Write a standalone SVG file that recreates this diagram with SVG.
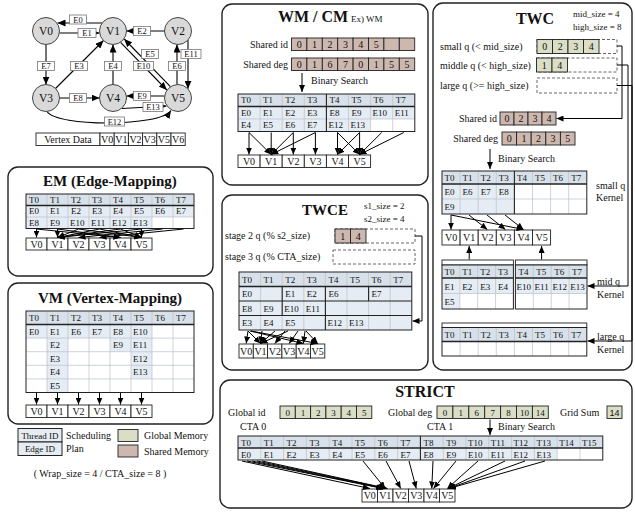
<svg xmlns="http://www.w3.org/2000/svg" width="635" height="512" viewBox="0 0 635 512">
<style>
text{font-family:"Liberation Serif","Times New Roman",serif;fill:#111}
.s9{font-size:9px}.s10{font-size:10px}.s8{font-size:8.5px}.s11{font-size:11.5px}
.ttl{font-size:15px;font-weight:bold}
.mid{text-anchor:middle}.end{text-anchor:end}
.sans{font-family:"Liberation Sans",Arial,sans-serif}
.panel{fill:#fff;stroke:#222;stroke-width:1.4}
.hd{fill:#d8e1ea}.lt{fill:#e5ecf3}.wh{fill:#fff}
.grid{stroke:#b7c1cb;stroke-width:0.7;fill:none}
.dk{stroke:#222;stroke-width:1.1;fill:none}
.hl{stroke:#222;stroke-width:1.6;fill:none}
.box{stroke:#222;stroke-width:1;fill:none}
.vc{fill:#fff;stroke:#222;stroke-width:0.9}
.sh{fill:#cdb8af;stroke:#222;stroke-width:0.9}
.gm{fill:#dadec6;stroke:#222;stroke-width:0.9}
.dash{fill:none;stroke:#555;stroke-width:0.9;stroke-dasharray:3 2}
.ar{fill:none;stroke:#000;stroke-width:1;marker-end:url(#ah)}
.ar2{fill:none;stroke:#000;stroke-width:1.1;marker-end:url(#ah2)}
.el{fill:#fff;stroke:#777;stroke-width:0.8}
.node{fill:#d9d9d9;stroke:#444;stroke-width:1}
</style>
<defs>
<marker id="ah" markerUnits="userSpaceOnUse" markerWidth="7" markerHeight="6" viewBox="0 0 7 6" refX="7" refY="3" orient="auto"><path d="M0,0 L7,3 L0,6 Z" fill="#000"/></marker>
<marker id="ah2" markerUnits="userSpaceOnUse" markerWidth="8" markerHeight="7" viewBox="0 0 8 7" refX="8" refY="3.5" orient="auto"><path d="M0,0 L8,3.5 L0,7 Z" fill="#000"/></marker>
</defs>
<rect width="635" height="512" fill="#fff"/>

<g id="vertex-data">
<rect x="36" y="133" width="64" height="12.5" class="vc"/>
<text x="68" y="142.5" class="s10 mid">Vertex Data</text>
<rect x="100" y="133" width="14.2" height="12.5" class="vc"/><rect x="114.2" y="133" width="14.2" height="12.5" class="vc"/><rect x="128.4" y="133" width="14.2" height="12.5" class="vc"/><rect x="142.6" y="133" width="14.2" height="12.5" class="vc"/><rect x="156.8" y="133" width="14.2" height="12.5" class="vc"/><rect x="171" y="133" width="14.2" height="12.5" class="vc"/>
<text x="107.1" y="142.5" class="s10 mid">V0</text><text x="121.3" y="142.5" class="s10 mid">V1</text><text x="135.5" y="142.5" class="s10 mid">V2</text><text x="149.7" y="142.5" class="s10 mid">V3</text><text x="163.9" y="142.5" class="s10 mid">V5</text><text x="178.1" y="142.5" class="s10 mid">V6</text>
</g>

<g id="em">
<rect x="8" y="167" width="205" height="109" rx="10" class="panel"/>
<text x="110" y="186" class="ttl mid">EM (Edge-Mapping)</text>
<rect x="26" y="194" width="168" height="34.5" class="lt"/>
<rect x="26" y="194" width="168" height="11.5" class="hd"/>
<rect x="152" y="217" width="42" height="11.5" class="wh"/>
<path class="grid" d="M47,194V228.5M68,194V228.5M89,194V228.5M110,194V228.5M131,194V228.5M152,194V228.5M173,194V228.5M26,217H194"/>
<path class="hl" d="M26,205.5H194"/>
<rect x="26" y="194" width="168" height="34.5" class="box"/>
<g class="s9">
<text x="29" y="202.5">T0</text><text x="50" y="202.5">T1</text><text x="71" y="202.5">T2</text><text x="92" y="202.5">T3</text><text x="113" y="202.5">T4</text><text x="134" y="202.5">T5</text><text x="155" y="202.5">T6</text><text x="176" y="202.5">T7</text>
<text x="29" y="214">E0</text><text x="50" y="214">E1</text><text x="71" y="214">E2</text><text x="92" y="214">E3</text><text x="113" y="214">E4</text><text x="134" y="214">E5</text><text x="155" y="214">E6</text><text x="176" y="214">E7</text>
<text x="29" y="225.5">E8</text><text x="50" y="225.5">E9</text><text x="70" y="225.5">E10</text><text x="91" y="225.5">E11</text><text x="112" y="225.5">E12</text><text x="133" y="225.5">E13</text>
</g>
<rect x="26" y="238" width="21" height="12" class="vc"/><rect x="47" y="238" width="21" height="12" class="vc"/><rect x="68" y="238" width="21" height="12" class="vc"/><rect x="89" y="238" width="21" height="12" class="vc"/><rect x="110" y="238" width="21" height="12" class="vc"/><rect x="131" y="238" width="21" height="12" class="vc"/>
<g class="s10 mid"><text x="36.5" y="247.5">V0</text><text x="57.5" y="247.5">V1</text><text x="78.5" y="247.5">V2</text><text x="99.5" y="247.5">V3</text><text x="120.5" y="247.5">V4</text><text x="141.5" y="247.5">V5</text></g>
</g>

<g id="vm">
<rect x="8" y="283" width="205" height="141" rx="10" class="panel"/>
<text x="110" y="303" class="ttl mid">VM (Vertex-Mapping)</text>
<rect x="26" y="311" width="168" height="81.5" class="wh"/>
<rect x="26" y="311" width="168" height="13.5" class="hd"/>
<rect x="26" y="324.5" width="126" height="13.6" class="lt"/>
<rect x="47" y="338.1" width="21" height="54.4" class="lt"/>
<rect x="110" y="338.1" width="42" height="13.6" class="lt"/>
<rect x="131" y="351.7" width="21" height="27.2" class="lt"/>
<path class="grid" d="M47,311V392.5M68,311V392.5M89,311V392.5M110,311V392.5M131,311V392.5M152,311V392.5M173,311V392.5M26,338.1H194M26,351.7H194M26,365.3H194M26,378.9H194"/>
<path class="hl" d="M26,324.5H194"/>
<rect x="26" y="311" width="168" height="81.5" class="box"/>
<g class="s9">
<text x="29" y="321">T0</text><text x="50" y="321">T1</text><text x="71" y="321">T2</text><text x="92" y="321">T3</text><text x="113" y="321">T4</text><text x="134" y="321">T5</text><text x="155" y="321">T6</text><text x="176" y="321">T7</text>
<text x="29" y="334.5">E0</text><text x="50" y="334.5">E1</text><text x="71" y="334.5">E6</text><text x="92" y="334.5">E7</text><text x="113" y="334.5">E8</text><text x="133" y="334.5">E10</text>
<text x="50" y="348.1">E2</text><text x="113" y="348.1">E9</text><text x="133" y="348.1">E11</text>
<text x="50" y="361.7">E3</text><text x="133" y="361.7">E12</text>
<text x="50" y="375.3">E4</text><text x="133" y="375.3">E13</text>
<text x="50" y="388.9">E5</text>
</g>
<rect x="26" y="405" width="21" height="12.5" class="vc"/><rect x="47" y="405" width="21" height="12.5" class="vc"/><rect x="68" y="405" width="21" height="12.5" class="vc"/><rect x="89" y="405" width="21" height="12.5" class="vc"/><rect x="110" y="405" width="21" height="12.5" class="vc"/><rect x="131" y="405" width="21" height="12.5" class="vc"/>
<g class="s10 mid"><text x="36.5" y="414.5">V0</text><text x="57.5" y="414.5">V1</text><text x="78.5" y="414.5">V2</text><text x="99.5" y="414.5">V3</text><text x="120.5" y="414.5">V4</text><text x="141.5" y="414.5">V5</text></g>
</g>

<g id="legend">
<rect x="18" y="428.5" width="44" height="13.5" class="lt" stroke="#222" stroke-width="1"/>
<rect x="18" y="442" width="44" height="13.5" class="lt" stroke="#222" stroke-width="1"/>
<text x="40" y="438.5" class="s9 mid">Thread ID</text>
<text x="40" y="452" class="s9 mid">Edge ID</text>
<text x="66" y="438.5" class="s10">Scheduling</text>
<text x="66" y="452" class="s10">Plan</text>
<rect x="118" y="429.5" width="20" height="12" class="gm"/>
<rect x="118" y="445" width="20" height="12" class="sh"/>
<text x="144" y="439" class="s10">Global Memory</text>
<text x="144" y="454.5" class="s10">Shared Memory</text>
<text x="100" y="477" class="s10 mid">( Wrap_size = 4 / CTA_size = 8 )</text>
</g>

<g id="wm">
<rect x="222" y="4" width="206" height="181" rx="10" class="panel"/>
<text x="278" y="22" font-size="16" font-weight="bold">WM  / CM</text>
<text x="351" y="22" class="s9">Ex) WM</text>
<text x="288" y="47.5" class="s10 end">Shared id</text>
<text x="288" y="67.5" class="s10 end">Shared deg</text>
<rect x="291.5" y="38" width="15.4" height="12.5" class="sh"/><rect x="306.9" y="38" width="15.4" height="12.5" class="sh"/><rect x="322.3" y="38" width="15.4" height="12.5" class="sh"/><rect x="337.7" y="38" width="15.4" height="12.5" class="sh"/><rect x="353.1" y="38" width="15.4" height="12.5" class="sh"/><rect x="368.5" y="38" width="15.4" height="12.5" class="sh"/><rect x="383.9" y="38" width="15.4" height="12.5" class="sh"/><rect x="399.3" y="38" width="15.4" height="12.5" class="sh"/>
<g class="s10 mid"><text x="299.2" y="47.5">0</text><text x="314.6" y="47.5">1</text><text x="330" y="47.5">2</text><text x="345.4" y="47.5">3</text><text x="360.8" y="47.5">4</text><text x="376.2" y="47.5">5</text></g>
<rect x="291.5" y="58" width="15.4" height="12.5" class="sh"/><rect x="306.9" y="58" width="15.4" height="12.5" class="sh"/><rect x="322.3" y="58" width="15.4" height="12.5" class="sh"/><rect x="337.7" y="58" width="15.4" height="12.5" class="sh"/><rect x="353.1" y="58" width="15.4" height="12.5" class="sh"/><rect x="368.5" y="58" width="15.4" height="12.5" class="sh"/><rect x="383.9" y="58" width="15.4" height="12.5" class="sh"/><rect x="399.3" y="58" width="15.4" height="12.5" class="sh"/>
<g class="s10 mid"><text x="299.2" y="67.5">0</text><text x="314.6" y="67.5">1</text><text x="330" y="67.5">6</text><text x="345.4" y="67.5">7</text><text x="360.8" y="67.5">0</text><text x="376.2" y="67.5">1</text><text x="391.6" y="67.5">5</text><text x="407" y="67.5">5</text></g>
<text x="311" y="84" class="s10">Binary Search</text>
<rect x="238" y="94" width="176.8" height="37.5" class="lt"/>
<rect x="238" y="94" width="176.8" height="12.5" class="hd"/>
<rect x="370.6" y="119" width="44.2" height="12.5" class="wh"/>
<path class="grid" d="M260.1,94V131.5M282.2,94V131.5M304.3,94V131.5M348.5,94V131.5M370.6,94V131.5M392.7,94V131.5M238,119H414.8"/>
<path class="hl" d="M238,106.5H414.8"/>
<path class="dk" d="M326.4,94V131.5"/>
<rect x="238" y="94" width="176.8" height="37.5" class="box"/>
<g class="s9">
<text x="241" y="103.2">T0</text><text x="263.1" y="103.2">T1</text><text x="285.2" y="103.2">T2</text><text x="307.3" y="103.2">T3</text><text x="329.4" y="103.2">T4</text><text x="351.5" y="103.2">T5</text><text x="373.6" y="103.2">T6</text><text x="395.7" y="103.2">T7</text>
<text x="241" y="115.7">E0</text><text x="263.1" y="115.7">E1</text><text x="285.2" y="115.7">E2</text><text x="307.3" y="115.7">E3</text><text x="329.4" y="115.7">E8</text><text x="351.5" y="115.7">E9</text><text x="372.6" y="115.7">E10</text><text x="394.7" y="115.7">E11</text>
<text x="241" y="128.2">E4</text><text x="263.1" y="128.2">E5</text><text x="285.2" y="128.2">E6</text><text x="307.3" y="128.2">E7</text><text x="328.4" y="128.2">E12</text><text x="350.5" y="128.2">E13</text>
</g>
<rect x="238" y="155" width="22.1" height="12.5" class="vc"/><rect x="260.1" y="155" width="22.1" height="12.5" class="vc"/><rect x="282.2" y="155" width="22.1" height="12.5" class="vc"/><rect x="304.3" y="155" width="22.1" height="12.5" class="vc"/><rect x="326.4" y="155" width="22.1" height="12.5" class="vc"/><rect x="348.5" y="155" width="22.1" height="12.5" class="vc"/>
<g class="s10 mid"><text x="249" y="164.5">V0</text><text x="271.2" y="164.5">V1</text><text x="293.3" y="164.5">V2</text><text x="315.4" y="164.5">V3</text><text x="337.5" y="164.5">V4</text><text x="359.6" y="164.5">V5</text></g>
</g>

<g id="twce">
<rect x="222" y="195" width="206" height="175" rx="10" class="panel"/>
<text x="325" y="215" class="ttl mid">TWCE</text>
<text x="364" y="209" class="s9">s1_size = 2</text>
<text x="364" y="222" class="s9">s2_size = 4</text>
<text x="225" y="239" class="s10">stage 2 q (% s2_size)</text>
<text x="225" y="260" class="s10">stage 3 q (% CTA_size)</text>
<rect x="335" y="229" width="80" height="14" class="dash"/>
<rect x="335" y="229" width="15.5" height="14" class="sh"/><rect x="350.5" y="229" width="15.5" height="14" class="sh"/>
<text x="342.75" y="239.5" class="s10 mid">1</text><text x="358.25" y="239.5" class="s10 mid">4</text>
<rect x="333" y="250" width="82" height="14" class="dash"/>
<rect x="239" y="272" width="172.8" height="58" class="lt"/>
<rect x="239" y="272" width="172.8" height="14.5" class="hd"/>
<path class="grid" d="M260.6,272V330M282.2,272V330M303.8,272V330M325.4,272V330M347,272V330M368.6,272V330M390.2,272V330"/>
<path class="dk" d="M239,301H411.8M239,315.5H411.8M282.2,286.5V315.5M325.4,286.5V330M368.6,286.5V301"/>
<path class="hl" d="M239,286.5H411.8"/>
<rect x="239" y="272" width="172.8" height="58" class="box"/>
<g class="s9">
<text x="242" y="282.5">T0</text><text x="263.6" y="282.5">T1</text><text x="285.2" y="282.5">T2</text><text x="306.8" y="282.5">T3</text><text x="328.4" y="282.5">T4</text><text x="350" y="282.5">T5</text><text x="371.6" y="282.5">T6</text><text x="393.2" y="282.5">T7</text>
<text x="242" y="297">E0</text><text x="285.2" y="297">E1</text><text x="306.8" y="297">E2</text><text x="328.4" y="297">E6</text><text x="371.6" y="297">E7</text>
<text x="242" y="311.5">E8</text><text x="263.6" y="311.5">E9</text><text x="284.2" y="311.5">E10</text><text x="305.8" y="311.5">E11</text>
<text x="242" y="326">E3</text><text x="263.6" y="326">E4</text><text x="285.2" y="326">E5</text><text x="327.4" y="326">E12</text><text x="349" y="326">E13</text>
</g>
<rect x="239" y="344" width="14.3" height="14" class="vc"/><rect x="253.3" y="344" width="14.3" height="14" class="vc"/><rect x="267.6" y="344" width="14.3" height="14" class="vc"/><rect x="281.9" y="344" width="14.3" height="14" class="vc"/><rect x="296.2" y="344" width="14.3" height="14" class="vc"/><rect x="310.5" y="344" width="14.3" height="14" class="vc"/>
<g class="s10 mid"><text x="246.2" y="354.5">V0</text><text x="260.5" y="354.5">V1</text><text x="274.8" y="354.5">V2</text><text x="289.1" y="354.5">V3</text><text x="303.4" y="354.5">V4</text><text x="317.7" y="354.5">V5</text></g>
</g>

<g id="twc">
<rect x="433" y="3" width="199" height="367" rx="10" class="panel"/>
<text x="535" y="24" font-size="16" font-weight="bold" class="mid">TWC</text>
<text x="573" y="17" class="s9">mid_size = 4</text>
<text x="573" y="30" class="s9">high_size = 8</text>
<text x="440" y="49.5" class="s10">small q (&lt; mid_size)</text>
<text x="440" y="68.5" class="s10">middle q (&lt; high_size)</text>
<text x="440" y="89" class="s10">large q (&gt;= high_size)</text>
<rect x="537" y="39.5" width="80" height="14" class="dash"/>
<rect x="537" y="39.5" width="15.5" height="14" class="gm"/><rect x="552.5" y="39.5" width="15.5" height="14" class="gm"/><rect x="568" y="39.5" width="15.5" height="14" class="gm"/><rect x="583.5" y="39.5" width="15.5" height="14" class="gm"/>
<g class="s10 mid"><text x="544.75" y="50">0</text><text x="560.25" y="50">2</text><text x="575.75" y="50">3</text><text x="591.25" y="50">4</text></g>
<rect x="536.5" y="58" width="80.5" height="14" class="dash"/>
<rect x="536.5" y="58" width="15.5" height="14" class="gm"/><rect x="552" y="58" width="15.5" height="14" class="gm"/>
<g class="s10 mid"><text x="544.25" y="68.5">1</text><text x="559.75" y="68.5">4</text></g>
<rect x="537" y="78" width="80" height="15" class="dash"/>
<text x="497" y="121.5" class="s10 end">Shared id</text>
<rect x="500" y="112" width="14" height="13" class="sh"/><rect x="514" y="112" width="14" height="13" class="sh"/><rect x="528" y="112" width="14" height="13" class="sh"/><rect x="542" y="112" width="14" height="13" class="sh"/>
<g class="s10 mid"><text x="507" y="122">0</text><text x="521" y="122">2</text><text x="535" y="122">3</text><text x="549" y="122">4</text></g>
<text x="498" y="141.5" class="s10 end">Shared deg</text>
<rect x="502" y="132" width="14.6" height="13" class="sh"/><rect x="516.6" y="132" width="14.6" height="13" class="sh"/><rect x="531.2" y="132" width="14.6" height="13" class="sh"/><rect x="545.8" y="132" width="14.6" height="13" class="sh"/><rect x="560.4" y="132" width="14.6" height="13" class="sh"/>
<g class="s10 mid"><text x="509.3" y="142">0</text><text x="523.9" y="142">1</text><text x="538.5" y="142">2</text><text x="553.1" y="142">3</text><text x="567.7" y="142">5</text></g>
<text x="498" y="162" class="s10">Binary Search</text>
<rect x="442" y="171" width="144.8" height="43" class="wh"/>
<rect x="442" y="171" width="144.8" height="13" class="hd"/>
<rect x="442" y="184" width="72.4" height="30" class="lt"/>
<path class="grid" d="M460.1,171V214M478.2,171V214M496.3,171V214M532.5,171V214M550.6,171V214M568.7,171V214M442,199H586.8"/>
<path class="hl" d="M442,184H586.8"/>
<path class="dk" d="M514.4,171V214"/>
<rect x="442" y="171" width="144.8" height="43" class="box"/>
<g class="s9">
<text x="444.5" y="181">T0</text><text x="462.6" y="181">T1</text><text x="480.7" y="181">T2</text><text x="498.8" y="181">T3</text><text x="516.9" y="181">T4</text><text x="535" y="181">T5</text><text x="553.1" y="181">T6</text><text x="571.2" y="181">T7</text>
<text x="444.5" y="195">E0</text><text x="462.6" y="195">E6</text><text x="480.7" y="195">E7</text><text x="498.8" y="195">E8</text>
<text x="444.5" y="210">E9</text>
</g>
<text x="596" y="189" class="s10">small q</text>
<text x="596" y="201" class="s10">Kernel</text>
<rect x="442" y="230" width="18.1" height="15" class="vc"/><rect x="460.1" y="230" width="18.1" height="15" class="vc"/><rect x="478.2" y="230" width="18.1" height="15" class="vc"/><rect x="496.3" y="230" width="18.1" height="15" class="vc"/><rect x="514.4" y="230" width="18.1" height="15" class="vc"/><rect x="532.5" y="230" width="18.1" height="15" class="vc"/>
<g class="s10 mid"><text x="451.1" y="241">V0</text><text x="469.2" y="241">V1</text><text x="487.3" y="241">V2</text><text x="505.4" y="241">V3</text><text x="523.5" y="241">V4</text><text x="541.6" y="241">V5</text></g>
<rect x="442" y="260" width="71.4" height="5" class="vc"/>
<rect x="515.4" y="260" width="71.6" height="5" class="vc"/>
<rect x="442" y="265" width="71.4" height="44" class="wh"/>
<rect x="442" y="265" width="71.4" height="13" class="hd"/>
<rect x="442" y="278" width="71.4" height="15.5" class="lt"/>
<rect x="442" y="293.5" width="17.85" height="15.5" class="lt"/>
<path class="grid" d="M459.85,265V309M477.7,265V309M495.55,265V309M442,293.5H513.4"/>
<path class="hl" d="M442,278H513.4"/>
<rect x="442" y="265" width="71.4" height="44" class="box" stroke-width="1.3"/>
<rect x="515.4" y="265" width="71.6" height="44" class="wh"/>
<rect x="515.4" y="265" width="71.6" height="13" class="hd"/>
<rect x="515.4" y="278" width="71.6" height="15.5" class="lt"/>
<path class="grid" d="M533.3,265V309M551.2,265V309M569.1,265V309M515.4,293.5H587"/>
<path class="hl" d="M515.4,278H587"/>
<rect x="515.4" y="265" width="71.6" height="44" class="box" stroke-width="1.3"/>
<g class="s9">
<text x="444.5" y="275">T0</text><text x="462.35" y="275">T1</text><text x="480.2" y="275">T2</text><text x="498.05" y="275">T3</text>
<text x="444.5" y="289.5">E1</text><text x="462.35" y="289.5">E2</text><text x="480.2" y="289.5">E3</text><text x="498.05" y="289.5">E4</text>
<text x="444.5" y="305">E5</text>
<text x="518.4" y="275">T4</text><text x="536.3" y="275">T5</text><text x="554.2" y="275">T6</text><text x="572.1" y="275">T7</text>
<text x="516.6" y="289.5">E10</text><text x="534.5" y="289.5">E11</text><text x="552.4" y="289.5">E12</text><text x="570.3" y="289.5">E13</text>
</g>
<text x="597" y="284.5" class="s10">mid q</text>
<text x="597" y="297.5" class="s10">Kernel</text>
<rect x="442" y="323" width="144.8" height="4.5" class="vc"/>
<rect x="442" y="327.5" width="144.8" height="28.5" class="wh"/>
<rect x="442" y="327.5" width="144.8" height="14" class="hd"/>
<path class="grid" d="M460.1,327.5V356M478.2,327.5V356M496.3,327.5V356M514.4,327.5V356M532.5,327.5V356M550.6,327.5V356M568.7,327.5V356"/>
<path class="hl" d="M442,341.5H586.8"/>
<rect x="442" y="327.5" width="144.8" height="28.5" class="box" stroke-width="1.3"/>
<g class="s9">
<text x="444.5" y="338">T0</text><text x="462.6" y="338">T1</text><text x="480.7" y="338">T2</text><text x="498.8" y="338">T3</text><text x="516.9" y="338">T4</text><text x="535" y="338">T5</text><text x="553.1" y="338">T6</text><text x="571.2" y="338">T7</text>
</g>
<text x="597" y="339.5" class="s10">large q</text>
<text x="597" y="353" class="s10">Kernel</text>
</g>

<g id="strict">
<rect x="220" y="380" width="412" height="128" rx="10" class="panel"/>
<text x="425" y="397" font-size="16" font-weight="bold" class="mid">STRICT</text>
<text x="228" y="416" class="s10">Global id</text>
<rect x="280" y="406" width="15.3" height="12.5" class="gm"/><rect x="295.3" y="406" width="15.3" height="12.5" class="gm"/><rect x="310.6" y="406" width="15.3" height="12.5" class="gm"/><rect x="325.9" y="406" width="15.3" height="12.5" class="gm"/><rect x="341.2" y="406" width="15.3" height="12.5" class="gm"/><rect x="356.5" y="406" width="15.3" height="12.5" class="gm"/>
<g class="s9 mid sans"><text x="287.65" y="415.5">0</text><text x="302.95" y="415.5">1</text><text x="318.25" y="415.5">2</text><text x="333.55" y="415.5">3</text><text x="348.85" y="415.5">4</text><text x="364.15" y="415.5">5</text></g>
<text x="388" y="416" class="s10">Global deg</text>
<rect x="437" y="406" width="15.9" height="12.5" class="gm"/><rect x="452.9" y="406" width="15.9" height="12.5" class="gm"/><rect x="468.8" y="406" width="15.9" height="12.5" class="gm"/><rect x="484.7" y="406" width="15.9" height="12.5" class="gm"/><rect x="500.6" y="406" width="15.9" height="12.5" class="gm"/><rect x="516.5" y="406" width="15.9" height="12.5" class="gm"/><rect x="532.4" y="406" width="15.9" height="12.5" class="gm"/>
<g class="s9 mid sans"><text x="444.95" y="415.5">0</text><text x="460.85" y="415.5">1</text><text x="476.75" y="415.5">6</text><text x="492.65" y="415.5">7</text><text x="508.55" y="415.5">8</text><text x="524.45" y="415.5">10</text><text x="540.35" y="415.5">14</text></g>
<text x="560" y="416" class="s10">Grid Sum</text>
<rect x="607" y="406" width="15" height="12.5" class="gm"/>
<text x="614.5" y="415.5" class="s9 mid sans">14</text>
<text x="240" y="429.5" class="s10">CTA 0</text>
<text x="427" y="429.5" class="s10">CTA 1</text>
<text x="498" y="430" class="s10">Binary Search</text>
<rect x="238" y="436" width="364.8" height="24" class="lt"/>
<rect x="238" y="436" width="364.8" height="12" class="hd"/>
<rect x="557.2" y="448" width="45.6" height="12" class="wh"/>
<path class="grid" d="M260.8,436V460M283.6,436V460M306.4,436V460M329.2,436V460M352,436V460M374.8,436V460M397.6,436V460M443.2,436V460M466,436V460M488.8,436V460M511.6,436V460M534.4,436V460M557.2,436V460M580,436V460"/>
<path class="hl" d="M238,448H602.8"/>
<path class="dk" d="M420.4,436V460"/>
<rect x="238" y="436" width="364.8" height="24" class="box"/>
<g class="s9">
<text x="241" y="445.5">T0</text><text x="263.8" y="445.5">T1</text><text x="286.6" y="445.5">T2</text><text x="309.4" y="445.5">T3</text><text x="332.2" y="445.5">T4</text><text x="355" y="445.5">T5</text><text x="377.8" y="445.5">T6</text><text x="400.6" y="445.5">T7</text><text x="423.4" y="445.5">T8</text><text x="446.2" y="445.5">T9</text><text x="468" y="445.5">T10</text><text x="490.8" y="445.5">T11</text><text x="513.6" y="445.5">T12</text><text x="536.4" y="445.5">T13</text><text x="559.2" y="445.5">T14</text><text x="582" y="445.5">T15</text>
<text x="241" y="457.5">E0</text><text x="263.8" y="457.5">E1</text><text x="286.6" y="457.5">E2</text><text x="309.4" y="457.5">E3</text><text x="332.2" y="457.5">E4</text><text x="355" y="457.5">E5</text><text x="377.8" y="457.5">E6</text><text x="400.6" y="457.5">E7</text><text x="423.4" y="457.5">E8</text><text x="446.2" y="457.5">E9</text><text x="468" y="457.5">E10</text><text x="490.8" y="457.5">E11</text><text x="513.6" y="457.5">E12</text><text x="536.4" y="457.5">E13</text>
</g>
<rect x="362" y="489" width="15.5" height="13" class="vc"/><rect x="377.5" y="489" width="15.5" height="13" class="vc"/><rect x="393" y="489" width="15.5" height="13" class="vc"/><rect x="408.5" y="489" width="15.5" height="13" class="vc"/><rect x="424" y="489" width="15.5" height="13" class="vc"/><rect x="439.5" y="489" width="15.5" height="13" class="vc"/>
<g class="s10 mid"><text x="369.75" y="499">V0</text><text x="385.25" y="499">V1</text><text x="400.75" y="499">V2</text><text x="416.25" y="499">V3</text><text x="431.75" y="499">V4</text><text x="447.25" y="499">V5</text></g>
</g>

<g id="connectors">
<path class="ar2" d="M102,23 L57.5,23"/>
<path class="ar2" d="M59.5,33 L99.5,33"/>
<path class="ar2" d="M164.5,31 L126.5,31"/>
<path class="ar2" d="M55.5,88.5 L103.5,40.5"/>
<path class="ar2" d="M113,84.5 L113,44.5"/>
<path class="ar2" d="M120.6,42.4 L166.8,90"/>
<path class="ar2" d="M170.4,86.6 L124.2,39"/>
<path class="ar2" d="M177,84.5 L177,44.5"/>
<path class="ar2" d="M188,40 L188,88.8"/>
<path class="ar2" d="M46,44.5 L46,84.5"/>
<path class="ar2" d="M59.5,98 L99.5,98"/>
<path class="ar2" d="M164.5,96 L126.5,96"/>
<path class="ar2" d="M122,108.5 L166.5,106"/>
<path class="ar2" d="M47,111.5 C57,127 160,127 171,110.5"/>
<!-- EM -->
<line class="ar" x1="36.5" y1="229" x2="36.5" y2="237.5"/>
<line class="ar" x1="36.5" y1="229" x2="120.5" y2="237.5"/>
<line class="ar" x1="57.5" y1="229" x2="57.5" y2="237.5"/>
<line class="ar" x1="57.5" y1="229" x2="120.5" y2="237.5"/>
<line class="ar" x1="78.5" y1="229" x2="57.5" y2="237.5"/>
<line class="ar" x1="78.5" y1="229" x2="141.5" y2="237.5"/>
<line class="ar" x1="99.5" y1="229" x2="57.5" y2="237.5"/>
<line class="ar" x1="99.5" y1="229" x2="141.5" y2="237.5"/>
<line class="ar" x1="120.5" y1="229" x2="57.5" y2="237.5"/>
<line class="ar" x1="120.5" y1="229" x2="141.5" y2="237.5"/>
<line class="ar" x1="141.5" y1="229" x2="57.5" y2="237.5"/>
<line class="ar" x1="141.5" y1="229" x2="141.5" y2="237.5"/>
<line class="ar" x1="162.5" y1="229" x2="78.5" y2="237.5"/>
<line class="ar" x1="183.5" y1="229" x2="99.5" y2="237.5"/>
<!-- VM -->
<line class="ar" x1="36.5" y1="393" x2="36.5" y2="404.5"/>
<line class="ar" x1="57.5" y1="393" x2="57.5" y2="404.5"/>
<line class="ar" x1="78.5" y1="393" x2="78.5" y2="404.5"/>
<line class="ar" x1="99.5" y1="393" x2="99.5" y2="404.5"/>
<line class="ar" x1="120.5" y1="393" x2="120.5" y2="404.5"/>
<line class="ar" x1="141.5" y1="393" x2="141.5" y2="404.5"/>
<!-- WM -->
<line class="ar" x1="302" y1="73" x2="302" y2="92"/>
<line class="ar" x1="249" y1="132.5" x2="249" y2="154.5"/>
<line class="ar" x1="249" y1="132.5" x2="271.2" y2="154.5"/>
<line class="ar" x1="271.2" y1="132.5" x2="271.2" y2="154.5"/>
<line class="ar" x1="293.3" y1="132.5" x2="271.2" y2="154.5"/>
<line class="ar" x1="293.3" y1="132.5" x2="293.3" y2="154.5"/>
<line class="ar" x1="315.4" y1="132.5" x2="271.2" y2="154.5"/>
<line class="ar" x1="315.4" y1="132.5" x2="315.4" y2="154.5"/>
<line class="ar" x1="337.5" y1="132.5" x2="337.5" y2="154.5"/>
<line class="ar" x1="337.5" y1="132.5" x2="359.6" y2="154.5"/>
<line class="ar" x1="359.6" y1="132.5" x2="337.5" y2="154.5"/>
<line class="ar" x1="359.6" y1="132.5" x2="359.6" y2="154.5"/>
<line class="ar" x1="381.7" y1="132.5" x2="359.6" y2="154.5"/>
<line class="ar" x1="403.8" y1="132.5" x2="359.6" y2="154.5"/>
<!-- TWCE -->
<path class="ar" d="M415,236H422V321H412.5"/>
<line class="ar" x1="248" y1="331" x2="246.2" y2="343.5"/>
<line class="ar" x1="248" y1="331" x2="260.5" y2="343.5"/>
<line class="ar" x1="250" y1="331" x2="303.4" y2="343.5"/>
<line class="ar" x1="251" y1="331" x2="317.7" y2="343.5"/>
<line class="ar" x1="262" y1="331" x2="260.5" y2="343.5"/>
<line class="ar" x1="275" y1="331" x2="260.5" y2="343.5"/>
<line class="ar" x1="285" y1="331" x2="274.8" y2="343.5"/>
<line class="ar" x1="288" y1="331" x2="260.5" y2="343.5"/>
<line class="ar" x1="298" y1="331" x2="289.1" y2="343.5"/>
<line class="ar" x1="305" y1="331" x2="303.4" y2="343.5"/>
<line class="ar" x1="306" y1="331" x2="317.7" y2="343.5"/>
<!-- TWC -->
<path class="ar" d="M617,46H622V118.5H556.5"/>
<path class="ar" d="M617,65H628V286H587.5"/>
<path class="ar" d="M617,85.5H632V341H587.5"/>
<line class="ar" x1="490" y1="149" x2="490" y2="169"/>
<line class="ar" x1="451" y1="215" x2="451" y2="229.5"/>
<line class="ar" x1="451" y1="215" x2="523.5" y2="229.5"/>
<line class="ar" x1="469" y1="215" x2="487.3" y2="229.5"/>
<line class="ar" x1="487" y1="215" x2="505.4" y2="229.5"/>
<line class="ar" x1="505" y1="215" x2="523.5" y2="229.5"/>
<line class="ar" x1="469.2" y1="259.5" x2="469.2" y2="246"/>
<line class="ar" x1="541.6" y1="259.5" x2="541.6" y2="246"/>
<!-- STRICT -->
<line class="ar" x1="490" y1="419.5" x2="490" y2="435"/>
<line class="ar" x1="242" y1="461" x2="369.75" y2="488.5"/>
<line class="ar" x1="247" y1="461" x2="383" y2="488.5"/>
<line class="ar" x1="252" y1="461" x2="384.5" y2="488.5"/>
<line class="ar" x1="257" y1="461" x2="386" y2="488.5"/>
<line class="ar" x1="262" y1="461" x2="387.5" y2="488.5"/>
<line class="ar" x1="363" y1="461" x2="385.25" y2="488.5"/>
<line class="ar" x1="386" y1="461" x2="400.75" y2="488.5"/>
<line class="ar" x1="409" y1="461" x2="416.25" y2="488.5"/>
<line class="ar" x1="433" y1="461" x2="431.75" y2="488.5"/>
<line class="ar" x1="456" y1="461" x2="433.5" y2="488.5"/>
<line class="ar" x1="478" y1="461" x2="447.25" y2="488.5"/>
<line class="ar" x1="505" y1="461" x2="448" y2="488.5"/>
<line class="ar" x1="525" y1="461" x2="448.5" y2="488.5"/>
<line class="ar" x1="545" y1="461" x2="449" y2="488.5"/>
</g>

<g id="V0"><circle cx="46" cy="31" r="13.5" class="node"/><text x="46" y="35" class="s11 mid">V0</text></g>
<g id="V1"><circle cx="113" cy="31" r="13.5" class="node"/><text x="113" y="35" class="s11 mid">V1</text></g>
<g id="V2"><circle cx="178" cy="31" r="13.5" class="node"/><text x="178" y="35" class="s11 mid">V2</text></g>
<g id="V3"><circle cx="46" cy="98" r="13.5" class="node"/><text x="46" y="102" class="s11 mid">V3</text></g>
<g id="V4"><circle cx="113" cy="98" r="13.5" class="node"/><text x="113" y="102" class="s11 mid">V4</text></g>
<g id="V5"><circle cx="178" cy="98" r="13.5" class="node"/><text x="178" y="102" class="s11 mid">V5</text></g>

<g id="edge-labels" class="s8">
<rect x="69.5" y="15" width="17" height="9" class="el"/><text x="78" y="22.5" class="mid">E0</text>
<rect x="78" y="28.5" width="18" height="9" class="el"/><text x="87" y="36" class="mid">E1</text>
<rect x="133.5" y="26.5" width="17" height="9" class="el"/><text x="142" y="34" class="mid">E2</text>
<rect x="70.5" y="61.5" width="17" height="9" class="el"/><text x="79" y="69" class="mid">E3</text>
<rect x="104.5" y="61.5" width="17" height="9" class="el"/><text x="113" y="69" class="mid">E4</text>
<rect x="141.5" y="49.5" width="17" height="9" class="el"/><text x="150" y="57" class="mid">E5</text>
<rect x="133.5" y="61.5" width="20" height="9" class="el"/><text x="143.5" y="69" class="mid">E10</text>
<rect x="168.5" y="61.5" width="17" height="9" class="el"/><text x="177" y="69" class="mid">E6</text>
<rect x="181" y="49.5" width="20" height="9" class="el"/><text x="191" y="57" class="mid">E11</text>
<rect x="37.5" y="61.5" width="17" height="9" class="el"/><text x="46" y="69" class="mid">E7</text>
<rect x="69.5" y="93.5" width="17" height="9" class="el"/><text x="78" y="101" class="mid">E8</text>
<rect x="133.5" y="91.5" width="17" height="9" class="el"/><text x="142" y="99" class="mid">E9</text>
<rect x="143" y="102.5" width="20" height="9" class="el"/><text x="153" y="110" class="mid">E13</text>
<rect x="104.5" y="117" width="20" height="9" class="el"/><text x="114.5" y="124.5" class="mid">E12</text>
</g>
</svg>
